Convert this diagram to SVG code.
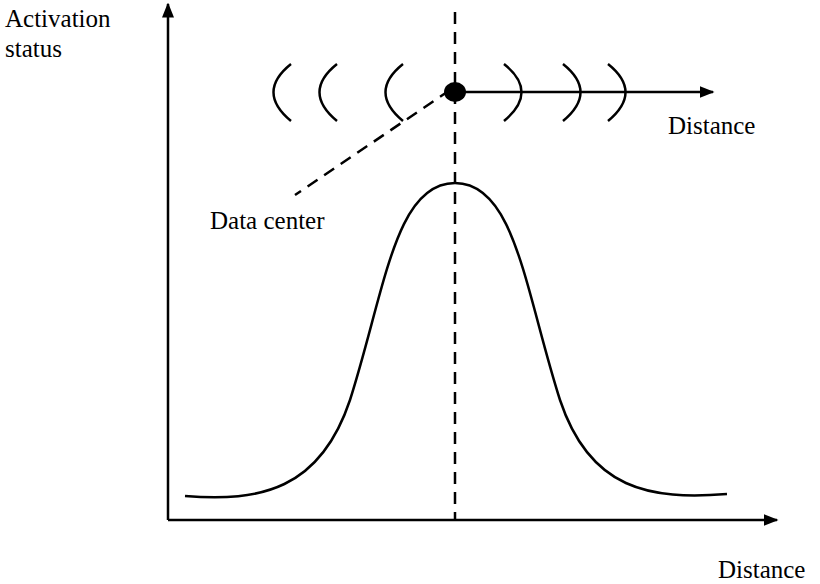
<svg xmlns="http://www.w3.org/2000/svg" width="820" height="584" viewBox="0 0 820 584">
<defs>
<style>
.l{stroke:#000;stroke-width:2.5;fill:none}
.d{stroke:#000;stroke-width:2.5;fill:none;stroke-dasharray:12,8}
text{font-family:"Liberation Serif",serif;font-size:25px;fill:#000}
</style>
<marker id="a" viewBox="0 0 10 10" refX="9" refY="5" markerWidth="6" markerHeight="6" orient="auto" markerUnits="strokeWidth"><path d="M0,1 L10,5 L0,9 Z" fill="#000"/></marker>
</defs>
<rect width="820" height="584" fill="#fff"/>
<g id="axes">
<path class="l" d="M168,520 V4" marker-end="url(#a)"/>
<path class="l" d="M168,520 H777" marker-end="url(#a)"/>
</g>
<g id="connectors">
<path class="d" d="M455,12 V520"/>
<path class="d" d="M450,90 L295,195"/>
<path class="l" d="M455,92 H713" marker-end="url(#a)"/>
</g>
<g id="waves">
<path class="l" d="M291,64 Q256,92 291,121"/>
<path class="l" d="M337,64 Q302,92 337,121"/>
<path class="l" d="M403,64 Q368,92 403,121"/>
<path class="l" d="M504,64 Q539,92 504,121"/>
<path class="l" d="M563,64 Q598,92 563,121"/>
<path class="l" d="M608,64 Q643,92 608,121"/>
</g>
<g id="center"><ellipse cx="455" cy="92" rx="11" ry="10" fill="#000"/></g>
<g id="curve">
<path class="l" d="M185,496 C260,502 320,490 350,400 C385,290 395,183 455,183 C515,183 525,290 560,400 C590,490 650,500 727,494"/>
</g>
<g id="labels">
<text x="5" y="27">Activation</text>
<text x="5" y="57">status</text>
<text x="668" y="134">Distance</text>
<text x="210" y="229">Data center</text>
<text x="718" y="578">Distance</text>
</g>
</svg>
